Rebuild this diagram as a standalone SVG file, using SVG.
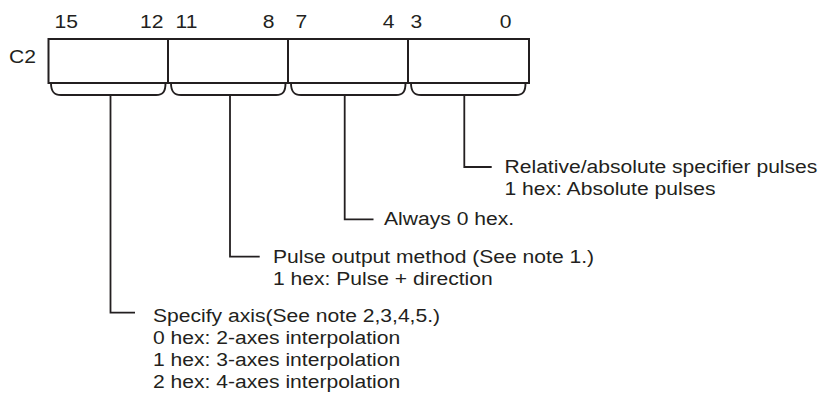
<svg xmlns="http://www.w3.org/2000/svg" width="823" height="394" viewBox="0 0 823 394">
<style>
text{font-family:"Liberation Sans",Arial,sans-serif;font-size:19px;fill:#231f20}
.box{fill:#fff;stroke:#231f20;stroke-width:2}
.brace{fill:none;stroke:#231f20;stroke-width:1.9}
.conn{fill:none;stroke:#231f20;stroke-width:1.8}
</style>
<rect width="823" height="394" fill="#fff"/>
<g id="register">
<text transform="translate(9,62.5) scale(1.11,1)">C2</text>
<rect class="box" x="48.5" y="39" width="480.5" height="44"/>
<line class="box" x1="168" y1="39" x2="168" y2="83"/>
<line class="box" x1="288" y1="39" x2="288" y2="83"/>
<line class="box" x1="408" y1="39" x2="408" y2="83"/>
<text transform="translate(54.5,27.5) scale(1.11,1)">15</text>
<text transform="translate(163.5,27.5) scale(1.11,1)" text-anchor="end">12</text>
<text transform="translate(175.5,27.5) scale(1.11,1)">11</text>
<text transform="translate(274.5,27.5) scale(1.11,1)" text-anchor="end">8</text>
<text transform="translate(295.5,27.5) scale(1.11,1)">7</text>
<text transform="translate(394.5,27.5) scale(1.11,1)" text-anchor="end">4</text>
<text transform="translate(410.5,27.5) scale(1.11,1)">3</text>
<text transform="translate(511.5,27.5) scale(1.11,1)" text-anchor="end">0</text>
</g>
<g id="braces">
<path class="brace" d="M51 83 C51 91 53.5 95 61 95 H156 C163.5 95 165.5 91 165.5 83"/>
<path class="brace" d="M171 83 C171 91 173.5 95 181 95 H276 C283.5 95 285.5 91 285.5 83"/>
<path class="brace" d="M291 83 C291 91 293.5 95 301 95 H396 C403.5 95 405.5 91 405.5 83"/>
<path class="brace" d="M411 83 C411 91 413.5 95 421 95 H516 C523.5 95 525.5 91 525.5 83"/>
</g>
<g id="connectors">
<path class="conn" d="M110.5 95 V312.7 H135"/>
<path class="conn" d="M230 95 V256.7 H259.7"/>
<path class="conn" d="M344.7 95 V219.3 H373.5"/>
<path class="conn" d="M464.3 95 V167 H491.7"/>
</g>
<g id="bits-0-3">
<text transform="translate(504.5,172.7) scale(1.11,1)">Relative/absolute specifier pulses</text>
<text transform="translate(504.5,195) scale(1.11,1)">1 hex: Absolute pulses</text>
</g>
<g id="bits-4-7">
<text transform="translate(384,225) scale(1.11,1)">Always 0 hex.</text>
</g>
<g id="bits-8-11">
<text transform="translate(273,262.5) scale(1.11,1)">Pulse output method (See note 1.)</text>
<text transform="translate(273,284.5) scale(1.11,1)">1 hex: Pulse + direction</text>
</g>
<g id="bits-12-15">
<text transform="translate(153,322.3) scale(1.11,1)">Specify axis(See note 2,3,4,5.)</text>
<text transform="translate(153,344) scale(1.11,1)">0 hex: 2-axes interpolation</text>
<text transform="translate(153,366) scale(1.11,1)">1 hex: 3-axes interpolation</text>
<text transform="translate(153,388) scale(1.11,1)">2 hex: 4-axes interpolation</text>
</g>
</svg>
